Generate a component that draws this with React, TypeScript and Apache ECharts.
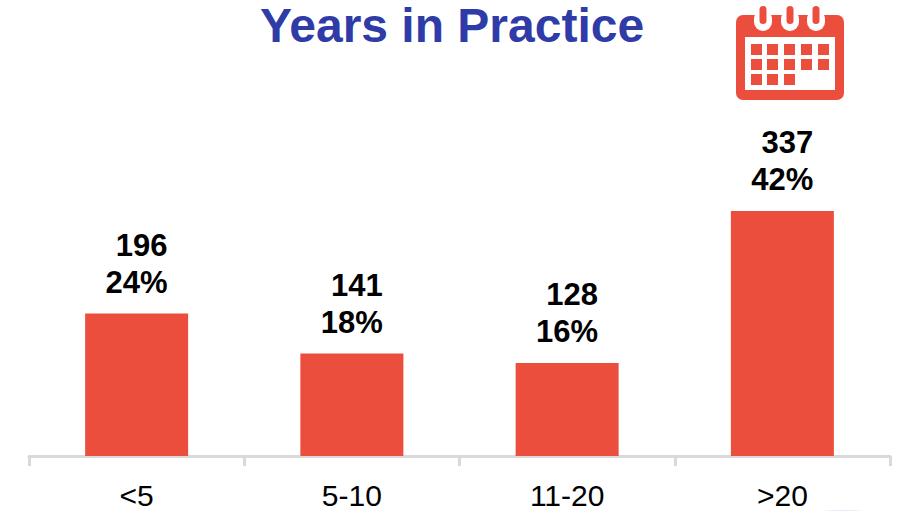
import React, { useEffect, useRef } from "react";
import * as echarts from "echarts";

const categories = ["<5", "5-10", "11-20", ">20"];
const counts = [196, 141, 128, 337];
const shares = ["24%", "18%", "16%", "42%"];

const RED = "#EC4E3E";
const FONT = '"Liberation Sans", Arial, sans-serif';

// Calendar icon: body, white page, binder rings and the day squares
const dayRows = [
  [751, 767, 784, 801, 818],
  [751, 767, 784, 801, 818],
  [751, 767, 784],
];
const dayRowTops = [44, 59, 74];
const ringCentres = [763, 790, 816];

function calendarIcon() {
  const red = { fill: RED };
  const white = { fill: "#fff" };
  const parts: any[] = [
    { type: "rect", shape: { x: 736, y: 15, width: 108, height: 85, r: 7 }, style: red },
    { type: "rect", shape: { x: 745, y: 37, width: 90, height: 53 }, style: white },
  ];
  ringCentres.forEach((cx) => {
    parts.push({ type: "rect", shape: { x: cx - 9, y: 10, width: 18, height: 21, r: 9 }, style: white });
    parts.push({ type: "rect", shape: { x: cx - 3.5, y: 6, width: 7, height: 18, r: 3.5 }, style: red });
  });
  dayRows.forEach((xs, row) => {
    xs.forEach((x) => {
      parts.push({ type: "rect", shape: { x, y: dayRowTops[row], width: 11, height: 11 }, style: red });
    });
  });
  return parts;
}

export default function App() {
  const ref = useRef<HTMLDivElement>(null);

  useEffect(() => {
    const chart = echarts.init(ref.current!, undefined, { renderer: "svg" });
    chart.setOption({
      animation: false,
      backgroundColor: "#fff",
      title: {
        text: "Years in Practice",
        left: 447,
        top: -4,
        textAlign: "center",
        textStyle: { color: "#2F3CA8", fontFamily: FONT, fontWeight: "bold", fontSize: 48, lineHeight: 48 },
      },
      grid: { left: 29, right: 12, top: 20, bottom: 55 },
      xAxis: {
        type: "category",
        data: categories,
        axisLine: { lineStyle: { color: "#D9D9D9", width: 3 } },
        axisTick: { show: true, length: 10, lineStyle: { color: "#D9D9D9", width: 3 } },
        axisLabel: { color: "#000", fontFamily: FONT, fontSize: 30, lineHeight: 30, margin: 24 },
      },
      yAxis: { type: "value", min: 0, max: 600, show: false },
      series: [
        {
          type: "bar",
          data: counts,
          barWidth: 103,
          itemStyle: { color: RED },
          label: {
            show: true,
            position: "top",
            distance: 13,
            formatter: (p: any) => `{count|${p.value}}\n{share|${shares[p.dataIndex]}}`,
            rich: {
              count: { color: "#000", fontFamily: FONT, fontWeight: "bold", fontSize: 31, lineHeight: 37, padding: [0, 0, 0, 10] },
              share: { color: "#000", fontFamily: FONT, fontWeight: "bold", fontSize: 31, lineHeight: 37 },
            },
          },
        },
      ],
      graphic: [
        ...calendarIcon().map((p) => ({ ...p, silent: true })),
        { type: "ellipse", shape: { cx: 843, cy: 516, rx: 36, ry: 6 }, style: { fill: "#E8E8F6" }, silent: true },
      ],
    });
    return () => chart.dispose();
  }, []);

  return <div ref={ref} style={{ position: "absolute", left: 0, top: 0, width: 902, height: 511 }} />;
}
